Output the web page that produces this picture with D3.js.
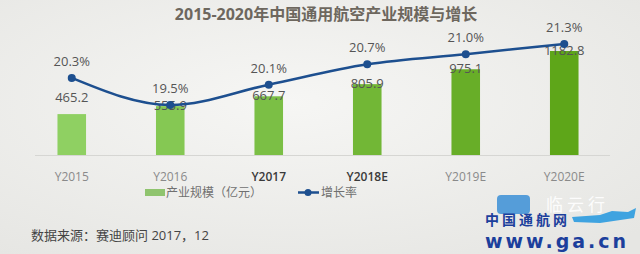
<!DOCTYPE html>
<html>
<head>
<meta charset="utf-8">
<script src="https://cdn.jsdelivr.net/npm/d3@7/dist/d3.min.js"></script>
<style>
  html, body { margin: 0; padding: 0; background: #efefed; }
  svg text { font-family: "Open Sans", "Noto Sans CJK SC", sans-serif; }
</style>
</head>
<body>
<div id="vis"></div>
<script>
var years = ["Y2015", "Y2016", "Y2017", "Y2018E", "Y2019E", "Y2020E"];
var scale = [465.2, 555.9, 667.7, 805.9, 975.1, 1182.8];
var growth = [20.3, 19.5, 20.1, 20.7, 21.0, 21.3];
var growthLabels = ["20.3%", "19.5%", "20.1%", "20.7%", "21.0%", "21.3%"];

var width = 640, height = 254;

var svg = d3.select("#vis").append("svg")
    .attr("width", width)
    .attr("height", height);

// soft photo-like background
var bg = svg.append("defs").append("radialGradient")
    .attr("id", "bg").attr("cx", "45%").attr("cy", "40%").attr("r", "75%");
bg.append("stop").attr("offset", "0%").attr("stop-color", "#f6f6f4");
bg.append("stop").attr("offset", "100%").attr("stop-color", "#e6e6e3");
svg.append("rect").attr("width", width).attr("height", height).attr("fill", "url(#bg)");

svg.append("text")
    .attr("x", 326).attr("y", 20)
    .attr("text-anchor", "middle")
    .style("font-size", "16px").style("font-weight", "bold")
    .style("fill", "#6d675e")
    .text("2015-2020年中国通用航空产业规模与增长");

var x = d3.scaleBand().domain(years).range([23, 613]).paddingInner(0.71).paddingOuter(0.35);
var y = d3.scaleLinear().domain([0, 1182.8]).range([155, 51]);
var yr = d3.scaleLinear().domain([19.5, 21.3]).range([105, 44]);
var barColor = d3.scaleLinear().domain([0, 5]).range(["#8fd062", "#5ea619"]);

// baseline
svg.append("line")
    .attr("x1", 35).attr("x2", 610).attr("y1", 155.5).attr("y2", 155.5)
    .attr("stroke", "#d6d6d3").attr("stroke-width", 1);

svg.selectAll("rect.bar")
    .data(scale)
    .enter().append("rect")
    .attr("class", "bar")
    .attr("x", function(d, i) { return x(years[i]); })
    .attr("y", function(d) { return y(d); })
    .attr("width", x.bandwidth())
    .attr("height", function(d) { return y(0) - y(d); })
    .attr("fill", function(d, i) { return barColor(i); });

// category labels
svg.selectAll("text.cat")
    .data(years)
    .enter().append("text")
    .attr("class", "cat")
    .attr("x", function(d) { return x(d) + x.bandwidth() / 2; })
    .attr("y", 181)
    .attr("text-anchor", "middle")
    .style("font-size", "12px")
    .style("font-weight", function(d, i) { return (i == 2 || i == 3) ? "600" : "normal"; })
    .style("fill", function(d, i) { return (i == 2 || i == 3) ? "#3a3a3a" : "#8a8a8a"; })
    .text(function(d) { return d; });

// value labels
svg.selectAll("text.val")
    .data(scale)
    .enter().append("text")
    .attr("class", "val")
    .attr("x", function(d, i) { return x(years[i]) + x.bandwidth() / 2; })
    .attr("y", function(d, i) { return Math.min(y(d) + 4, yr(growth[i]) + 24); })
    .attr("text-anchor", "middle")
    .style("font-size", "13px")
    .style("fill", "#555")
    .text(function(d) { return d.toFixed(1); });

// growth line
var line = d3.line()
    .x(function(d, i) { return x(years[i]) + x.bandwidth() / 2; })
    .y(function(d) { return yr(d); })
    .curve(d3.curveMonotoneX);

svg.append("path")
    .datum(growth)
    .attr("d", line)
    .attr("fill", "none")
    .attr("stroke", "#1d4f8f")
    .attr("stroke-width", 2.5);

svg.selectAll("circle.pt")
    .data(growth)
    .enter().append("circle")
    .attr("class", "pt")
    .attr("cx", function(d, i) { return x(years[i]) + x.bandwidth() / 2; })
    .attr("cy", function(d) { return yr(d); })
    .attr("r", 4)
    .attr("fill", "#1d4f8f");

svg.selectAll("text.pct")
    .data(growth)
    .enter().append("text")
    .attr("class", "pct")
    .attr("x", function(d, i) { return x(years[i]) + x.bandwidth() / 2; })
    .attr("y", function(d) { return yr(d) - 12; })
    .attr("text-anchor", "middle")
    .style("font-size", "13px")
    .style("fill", "#555")
    .text(function(d, i) { return growthLabels[i]; });

// legend
var legend = svg.append("g");
legend.append("rect")
    .attr("x", 145).attr("y", 189).attr("width", 20).attr("height", 7)
    .attr("fill", "#8fc46e");
legend.append("text")
    .attr("x", 166).attr("y", 197)
    .style("font-size", "12px").style("fill", "#707070")
    .text("产业规模（亿元）");
legend.append("line")
    .attr("x1", 298).attr("x2", 319).attr("y1", 192.5).attr("y2", 192.5)
    .attr("stroke", "#1d4f8f").attr("stroke-width", 2.5);
legend.append("circle")
    .attr("cx", 308).attr("cy", 192.5).attr("r", 3.5).attr("fill", "#1d4f8f");
legend.append("text")
    .attr("x", 321).attr("y", 197)
    .style("font-size", "12px").style("fill", "#707070")
    .text("增长率");

// source
svg.append("text")
    .attr("x", 31).attr("y", 240)
    .style("font-size", "13px").style("fill", "#444")
    .text("数据来源：赛迪顾问 2017，12");

// watermark
var wm = svg.append("g");
wm.append("rect")
    .attr("x", 497).attr("y", 195).attr("width", 33).attr("height", 19).attr("rx", 4)
    .attr("fill", "#3b8fd6").attr("opacity", 0.85);
wm.append("text")
    .attr("x", 546).attr("y", 211)
    .style("font-size", "17px").style("fill", "#ffffff").style("opacity", 0.9)
    .style("letter-spacing", "4px")
    .text("临云行");
wm.append("path")
    .attr("d", "M572,217 L600,215 L612,211 L628,212 L636,208 L634,218 L600,223 L574,222 Z")
    .attr("fill", "#3fa3e0");
wm.append("text")
    .attr("x", 485).attr("y", 225)
    .style("font-size", "14px").style("font-weight", "bold").style("fill", "#1c3f9c")
    .style("letter-spacing", "3px")
    .text("中国通航网");
wm.append("text")
    .attr("x", 485).attr("y", 248)
    .style("font-size", "19px").style("font-weight", "bold").style("fill", "#1c3f9c")
    .style("font-family", "DejaVu Sans")
    .style("letter-spacing", "3px")
    .text("www.ga.cn");
</script>
</body>
</html>
